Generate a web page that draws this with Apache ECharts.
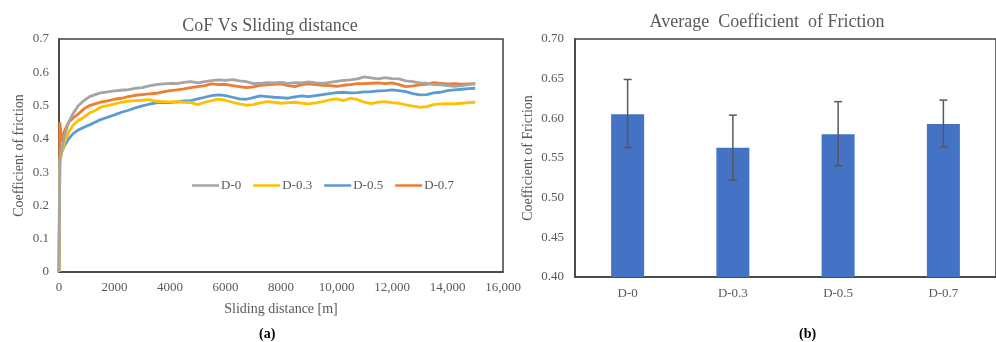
<!DOCTYPE html>
<html><head><meta charset="utf-8">
<script src="https://cdn.jsdelivr.net/npm/echarts@6/dist/echarts.min.js"></script>
<style>html,body{margin:0;padding:0;background:#fff}#c{width:996px;height:342px}</style>
</head><body><div id="c"></div>
<script>
const distance = [0,30,100,200,350,500,700,900,1100,1300,1500,1750,2000,2250,2500,2750,3000,3250,3500,3750,4000,4250,4500,4750,5000,5250,5500,5750,6000,6250,6500,6750,7000,7250,7500,7750,8000,8250,8500,8750,9000,9250,9500,9750,10000,10250,10500,10750,11000,11250,11500,11750,12000,12250,12500,12750,13000,13250,13500,13750,14000,14250,14500,14750,15000];
const cofD0 = [0,0.34,0.37,0.41,0.45,0.475,0.50,0.515,0.527,0.533,0.538,0.541,0.544,0.546,0.548,0.552,0.554,0.559,0.563,0.565,0.567,0.566,0.570,0.572,0.568,0.572,0.575,0.577,0.576,0.578,0.574,0.572,0.566,0.567,0.569,0.568,0.570,0.567,0.569,0.568,0.571,0.568,0.567,0.570,0.573,0.576,0.577,0.580,0.586,0.583,0.580,0.584,0.581,0.580,0.574,0.572,0.568,0.567,0.563,0.562,0.560,0.558,0.560,0.563,0.565];
const cofD03 = [0,0.33,0.36,0.39,0.42,0.44,0.455,0.465,0.478,0.485,0.495,0.500,0.505,0.510,0.513,0.515,0.516,0.518,0.513,0.512,0.511,0.512,0.510,0.509,0.503,0.510,0.515,0.519,0.516,0.510,0.505,0.501,0.503,0.508,0.512,0.510,0.507,0.509,0.510,0.507,0.505,0.508,0.512,0.517,0.520,0.515,0.522,0.518,0.510,0.506,0.510,0.512,0.509,0.507,0.502,0.498,0.495,0.497,0.503,0.505,0.506,0.505,0.507,0.509,0.510];
const cofD05 = [0,0.33,0.36,0.38,0.40,0.415,0.427,0.435,0.442,0.450,0.458,0.465,0.472,0.480,0.486,0.493,0.499,0.504,0.508,0.510,0.509,0.511,0.514,0.515,0.520,0.525,0.530,0.532,0.530,0.525,0.520,0.519,0.524,0.529,0.527,0.525,0.524,0.522,0.526,0.529,0.527,0.530,0.533,0.536,0.539,0.540,0.538,0.539,0.541,0.542,0.544,0.545,0.547,0.545,0.542,0.536,0.532,0.533,0.538,0.540,0.545,0.547,0.549,0.551,0.552];
const cofD07 = [0,0.45,0.39,0.425,0.45,0.462,0.475,0.49,0.50,0.505,0.51,0.514,0.519,0.522,0.527,0.531,0.533,0.535,0.537,0.541,0.545,0.547,0.550,0.554,0.557,0.560,0.565,0.563,0.564,0.560,0.557,0.554,0.556,0.561,0.562,0.564,0.565,0.560,0.557,0.563,0.565,0.563,0.561,0.560,0.558,0.561,0.563,0.566,0.566,0.567,0.568,0.566,0.568,0.563,0.557,0.559,0.562,0.564,0.569,0.567,0.565,0.566,0.564,0.565,0.566];
const seriesNames = ['D-0','D-0.3','D-0.5','D-0.7'];
const barCategories = ['D-0','D-0.3','D-0.5','D-0.7'];
const avgCoF = [0.605,0.563,0.580,0.593];
const errLow = [0.563,0.522,0.540,0.564];
const errHigh = [0.649,0.604,0.621,0.623];
const leftYTicks = [0,0.1,0.2,0.3,0.4,0.5,0.6,0.7];

const FONT = '"Liberation Serif","Times New Roman",serif';
const TXT = '#595959';
const lineColors = ['#A5A5A5','#FFC000','#5B9BD5','#ED7D31'];
const lineData = [cofD0,cofD03,cofD05,cofD07];

const chart = echarts.init(document.getElementById('c'), null, {renderer:'canvas'});
const opt = {
  animation:false,
  textStyle:{fontFamily:FONT},
  title:[
    {text:'CoF Vs Sliding distance', left:265, top:12, textAlign:'center', textStyle:{fontFamily:FONT,fontSize:18,fontWeight:'normal',color:TXT}},
    {text:'Average  Coefficient  of Friction', left:762, top:8, textAlign:'center', textStyle:{fontFamily:FONT,fontSize:18,fontWeight:'normal',color:TXT}}
  ],
  legend:{
    left:187, top:174, icon:'rect', itemWidth:27, itemHeight:2.5, itemGap:12,
    data:seriesNames, textStyle:{fontFamily:FONT,fontSize:13,color:TXT,padding:[0,0,0,-3]}
  },
  grid:[
    {left:59, top:39, width:444, height:233, show:true, borderColor:'#404040', borderWidth:1.5, backgroundColor:'transparent'},
    {left:575, top:39, width:430, height:238, show:true, borderColor:'#404040', borderWidth:1.5, backgroundColor:'transparent'}
  ],
  xAxis:[
    {type:'value', gridIndex:0, min:0, max:16000, interval:2000,
     name:'Sliding distance [m]', nameLocation:'middle', nameGap:30,
     nameTextStyle:{fontFamily:FONT,fontSize:14,color:TXT},
     axisLine:{show:true,lineStyle:{color:'#404040',width:1.5}}, axisTick:{show:false}, splitLine:{show:false},
     axisLabel:{fontFamily:FONT,fontSize:13,color:TXT,margin:9,showMaxLabel:true,
       formatter:v=> v>=10000 ? v.toLocaleString('en-US') : String(v)}},
    {type:'category', gridIndex:1, data:barCategories,
     axisLine:{show:true,lineStyle:{color:'#404040',width:1.5}}, axisTick:{show:false},
     axisLabel:{fontFamily:FONT,fontSize:13,color:TXT,margin:10}}
  ],
  yAxis:[
    {type:'value', gridIndex:0, min:0, max:0.7, interval:0.1,
     name:'Coefficient of friction', nameLocation:'middle', nameGap:33, nameRotate:90,
     nameTextStyle:{fontFamily:FONT,fontSize:14,color:TXT},
     axisLine:{show:true,lineStyle:{color:'#404040',width:1.5}}, axisTick:{show:false}, splitLine:{show:false},
     axisLabel:{fontFamily:FONT,fontSize:13,color:TXT,margin:10, formatter:v=>String(Math.round(v*10)/10)}},
    {type:'value', gridIndex:1, min:0.40, max:0.70, interval:0.05,
     name:'Coefficient of Friction', nameLocation:'middle', nameGap:40, nameRotate:90,
     nameTextStyle:{fontFamily:FONT,fontSize:14,color:TXT},
     axisLine:{show:true,lineStyle:{color:'#404040',width:1.5}}, axisTick:{show:false}, splitLine:{show:false},
     axisLabel:{fontFamily:FONT,fontSize:13,color:TXT,margin:11, formatter:v=>v.toFixed(2)}}
  ],
  series:[
    ...seriesNames.map((n,i)=>({
      name:n, type:'line', xAxisIndex:0, yAxisIndex:0, symbol:'none', z:10-i,
      lineStyle:{color:lineColors[i], width:2.8}, itemStyle:{color:lineColors[i]},
      data: distance.map((d,k)=>[d, lineData[i][k]])
    })),
    {type:'bar', xAxisIndex:1, yAxisIndex:1, data:avgCoF, barWidth:33,
     itemStyle:{color:'#4472C4'}},
    {type:'custom', xAxisIndex:1, yAxisIndex:1, z:5,
     data: barCategories.map((c,i)=>[i, errLow[i], errHigh[i]]),
     renderItem:(params, api)=>{
       const lo = api.coord([api.value(0), api.value(1)]);
       const hi = api.coord([api.value(0), api.value(2)]);
       const hw = 4;
       const st = {stroke:'#595959', lineWidth:1.5};
       return {type:'group', children:[
         {type:'line', shape:{x1:hi[0],y1:hi[1],x2:lo[0],y2:lo[1]}, style:st},
         {type:'line', shape:{x1:hi[0]-hw,y1:hi[1],x2:hi[0]+hw,y2:hi[1]}, style:st},
         {type:'line', shape:{x1:lo[0]-hw,y1:lo[1],x2:lo[0]+hw,y2:lo[1]}, style:st}
       ]};
     }}
  ],
  graphic:[
    {type:'text', left:259, top:327, style:{text:'(a)', font:'bold 14px '+FONT, fill:'#000'}},
    {type:'text', left:799, top:327, style:{text:'(b)', font:'bold 14px '+FONT, fill:'#000'}}
  ]
};
chart.setOption(opt);
</script></body></html>
